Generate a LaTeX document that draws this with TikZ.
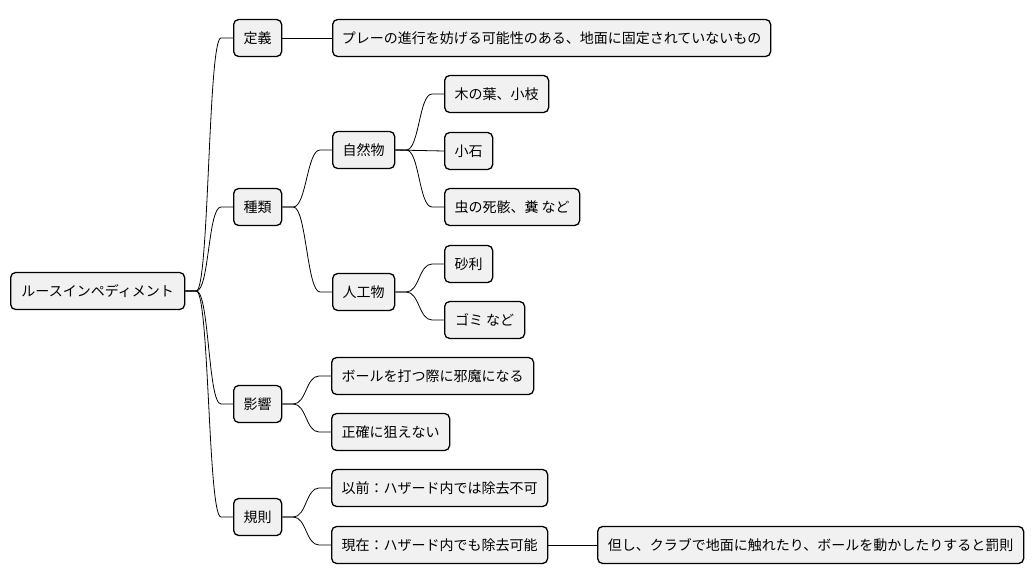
\documentclass[tikz,border=0pt]{standalone}
\usepackage{fontspec}
\newfontfamily\cjk{Noto Sans CJK JP}
\usetikzlibrary{calc}
\definecolor{boxfill}{HTML}{F1F1F1}
\tikzset{
  mm/.style={draw=black, fill=boxfill, rounded corners=5pt, line width=1.3pt,
    minimum height=37pt, inner sep=0pt, anchor=west, align=center,
    font=\cjk\fontsize{14}{16}\selectfont},
  edge/.style={draw=black, line width=0.8pt}
}
\newcommand\mmlink[2]{\draw[edge] (#1.east) -- ++(11,0) to[out=0,in=180,distance=13pt] ($(#2.west)+(-12,0)$) -- (#2.west);}
\newcommand\mmstraight[2]{\draw[edge] (#1.east) -- (#2.west);}
\begin{document}
\begin{tikzpicture}[x=1pt,y=-1pt]
\useasboundingbox (0,0) rectangle (1034,583);
\node[mm, minimum width=174pt] (root) at (10,291) {ルースインペディメント};
\node[mm, minimum width=48pt] (teigi) at (233,38) {定義};
\node[mm, minimum width=48pt] (shurui) at (233,207) {種類};
\node[mm, minimum width=48pt] (eikyo) at (233,404) {影響};
\node[mm, minimum width=48pt] (kisoku) at (233,517) {規則};
\node[mm, minimum width=438pt] (defn) at (332,38) {プレーの進行を妨げる可能性のある、地面に固定されていないもの};
\node[mm, minimum width=62pt] (shizen) at (332,150) {自然物};
\node[mm, minimum width=62pt] (jinko) at (332,292) {人工物};
\node[mm, minimum width=104pt] (konoha) at (444,94) {木の葉、小枝};
\node[mm, minimum width=48pt] (koishi) at (444,151) {小石};
\node[mm, minimum width=135pt] (mushi) at (444,207) {虫の死骸、糞 など};
\node[mm, minimum width=48pt] (jari) at (444,264) {砂利};
\node[mm, minimum width=80pt] (gomi) at (444,320) {ゴミ など};
\node[mm, minimum width=202pt] (ball) at (331,376) {ボールを打つ際に邪魔になる};
\node[mm, minimum width=118pt] (seikaku) at (331,432) {正確に狙えない};
\node[mm, minimum width=216pt] (izen) at (331,488) {以前：ハザード内では除去不可};
\node[mm, minimum width=216pt] (genzai) at (331,545) {現在：ハザード内でも除去可能};
\node[mm, minimum width=426pt] (tadashi) at (597,545) {但し、クラブで地面に触れたり、ボールを動かしたりすると罰則};
\mmlink{root}{teigi}
\mmlink{root}{shurui}
\mmlink{root}{eikyo}
\mmlink{root}{kisoku}
\mmstraight{teigi}{defn}
\mmlink{shurui}{shizen}
\mmlink{shurui}{jinko}
\mmlink{shizen}{konoha}
\mmstraight{shizen}{koishi}
\mmlink{shizen}{mushi}
\mmlink{jinko}{jari}
\mmlink{jinko}{gomi}
\mmlink{eikyo}{ball}
\mmlink{eikyo}{seikaku}
\mmlink{kisoku}{izen}
\mmlink{kisoku}{genzai}
\mmstraight{genzai}{tadashi}
\end{tikzpicture}
\end{document}
